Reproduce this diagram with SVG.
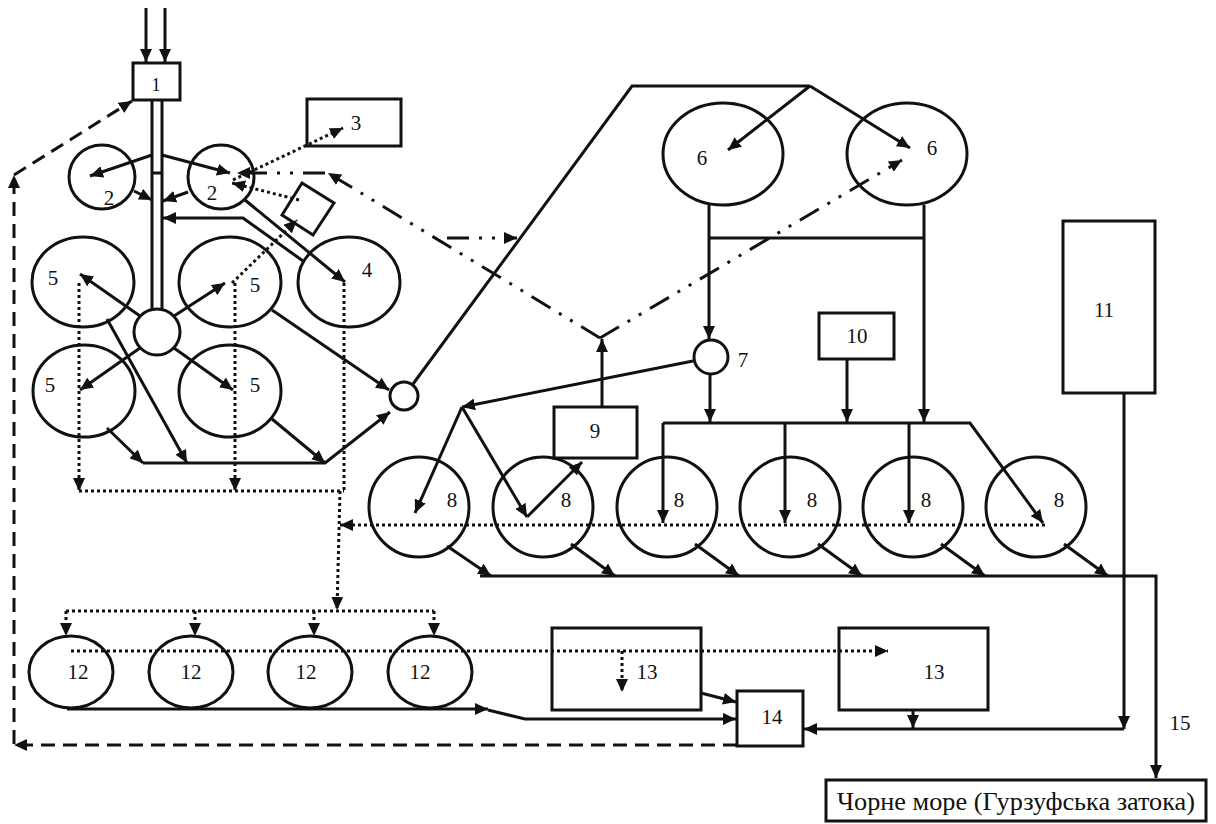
<svg xmlns="http://www.w3.org/2000/svg" width="1216" height="824" viewBox="0 0 1216 824">
<style>
.s{fill:none;stroke:#111;stroke-width:3}
.ln{fill:none;stroke:#111;stroke-width:3}
.dot{fill:none;stroke:#111;stroke-width:3;stroke-dasharray:3,3}
.dash{fill:none;stroke:#111;stroke-width:3;stroke-dasharray:14,8}
.dd{fill:none;stroke:#111;stroke-width:3;stroke-dasharray:22,10,3,10,3,10}
text{font-family:"Liberation Serif","Times New Roman",serif;font-size:21px;fill:#111;text-anchor:middle}
</style>
<defs>
<marker id="a" markerUnits="userSpaceOnUse" markerWidth="14" markerHeight="12" refX="13" refY="6" orient="auto">
<path d="M0,0 L13,6 L0,12 z" fill="#111"/>
</marker>
</defs>
<g id="connectors">
<path class="ln" d="M146,8 V62" marker-end="url(#a)"/>
<path class="ln" d="M165,8 V62" marker-end="url(#a)"/>
<path class="ln" d="M152,100 V310 M162,100 V310 M152,173 H162"/>
<path class="ln" d="M152,155 L90,176" marker-end="url(#a)"/>
<path class="ln" d="M162,155 L230,173" marker-end="url(#a)"/>
<path class="ln" d="M134,191 L152,200" marker-end="url(#a)"/>
<path class="ln" d="M188,192 L163,201" marker-end="url(#a)"/>
<path class="ln" d="M303,261 L243,218 L163,218" marker-end="url(#a)"/>
<path class="ln" d="M245,200 L345,282" marker-end="url(#a)"/>
<path class="ln" d="M140,316 L80,274" marker-end="url(#a)"/>
<path class="ln" d="M174,316 L225,283" marker-end="url(#a)"/>
<path class="ln" d="M140,348 L80,390" marker-end="url(#a)"/>
<path class="ln" d="M174,348 L233,390" marker-end="url(#a)"/>
<path class="ln" d="M107,319 L187,463" marker-end="url(#a)"/>
<path class="ln" d="M107,428 L143,463" marker-end="url(#a)"/>
<path class="ln" d="M272,419 L325,463" marker-end="url(#a)"/>
<path class="ln" d="M143,463 H325 L390,412" marker-end="url(#a)"/>
<path class="ln" d="M272,310 L389,390" marker-end="url(#a)"/>
<path class="ln" d="M413,384 L632,86 H810"/>
<path class="ln" d="M810,86 L728,150" marker-end="url(#a)"/>
<path class="ln" d="M810,86 L910,148" marker-end="url(#a)"/>
<path class="ln" d="M709,205 V339" marker-end="url(#a)"/>
<path class="ln" d="M709,238 H924"/>
<path class="ln" d="M924,205 V422" marker-end="url(#a)"/>
<path class="ln" d="M693,361 L462,407" marker-end="url(#a)"/>
<path class="ln" d="M462,407 L415,513" marker-end="url(#a)"/>
<path class="ln" d="M462,407 L527,517" marker-end="url(#a)"/>
<path class="ln" d="M527,517 L582,462" marker-end="url(#a)"/>
<path class="ln" d="M602,407 V339" marker-end="url(#a)"/>
<path class="ln" d="M710,374 V422" marker-end="url(#a)"/>
<path class="ln" d="M847,359 V422" marker-end="url(#a)"/>
<path class="ln" d="M663,423 H970 L1043,523" marker-end="url(#a)"/>
<path class="ln" d="M663,423 V523" marker-end="url(#a)"/>
<path class="ln" d="M785,423 V523" marker-end="url(#a)"/>
<path class="ln" d="M909,423 V523" marker-end="url(#a)"/>
<path class="ln" d="M447,546 L491,576" marker-end="url(#a)"/>
<path class="ln" d="M571,544 L615,576" marker-end="url(#a)"/>
<path class="ln" d="M695,544 L739,576" marker-end="url(#a)"/>
<path class="ln" d="M818,544 L862,576" marker-end="url(#a)"/>
<path class="ln" d="M941,544 L985,576" marker-end="url(#a)"/>
<path class="ln" d="M1064,544 L1108,576" marker-end="url(#a)"/>
<path class="ln" d="M480,576 H1156 V778" marker-end="url(#a)"/>
<path class="ln" d="M1124,393 V729" marker-end="url(#a)"/>
<path class="ln" d="M1124,729 H804" marker-end="url(#a)"/>
<path class="ln" d="M913,710 V728" marker-end="url(#a)"/>
<path class="ln" d="M67,709 H488" marker-end="url(#a)"/>
<path class="ln" d="M488,710 L525,719 H736" marker-end="url(#a)"/>
<path class="ln" d="M701,693 L736,702" marker-end="url(#a)"/>
<path class="dash" d="M737,745 H14" marker-end="url(#a)"/>
<path class="dash" d="M14,744 V175" marker-end="url(#a)"/>
<path class="dash" d="M14,175 L132,101" marker-end="url(#a)"/>
<path class="dot" d="M233,180 L343,128" marker-end="url(#a)"/>
<path class="dot" d="M299,200 L232,183" marker-end="url(#a)"/>
<path class="dot" d="M232,283 L297,220" marker-end="url(#a)"/>
<path class="dot" d="M79,283 V491" marker-end="url(#a)"/>
<path class="dot" d="M235,283 V491" marker-end="url(#a)"/>
<path class="dot" d="M79,491 H344 M344,283 V491"/>
<path class="dot" d="M340,491 L337,610" marker-end="url(#a)"/>
<path class="dot" d="M66,611 H434"/>
<path class="dot" d="M66,611 V636" marker-end="url(#a)"/>
<path class="dot" d="M195,611 V636" marker-end="url(#a)"/>
<path class="dot" d="M314,611 V636" marker-end="url(#a)"/>
<path class="dot" d="M434,611 V636" marker-end="url(#a)"/>
<path class="dot" d="M1045,525 H340" marker-end="url(#a)"/>
<path class="dot" d="M71,651 H888" marker-end="url(#a)"/>
<path class="dot" d="M622,651 V692" marker-end="url(#a)"/>
<path class="dd" d="M600,338 L328,173" marker-end="url(#a)"/>
<path class="dd" d="M325,173 H237" marker-end="url(#a)"/>
<path class="dd" d="M447,238 H517" marker-end="url(#a)"/>
<path class="dd" d="M600,338 L902,160" marker-end="url(#a)"/>
</g>
<g id="n1"><rect class="s" x="133" y="63" width="47" height="37"/><text x="156" y="91" style="font-size:18px">1</text></g>
<g id="n2a"><ellipse class="s" cx="102" cy="177" rx="33" ry="32"/><text x="109" y="205">2</text></g>
<g id="n2b"><ellipse class="s" cx="221" cy="177" rx="33" ry="32"/><text x="212" y="200">2</text></g>
<g id="n3"><rect class="s" x="307" y="99" width="94" height="47"/><text x="356" y="130">3</text></g>
<g id="nsq"><polygon class="s" points="302,183 334,203 313,235 282,215"/></g>
<g id="n4"><ellipse class="s" cx="349" cy="282" rx="51" ry="45"/><text x="367" y="277">4</text></g>
<g id="n5a"><ellipse class="s" cx="83" cy="282" rx="51" ry="45"/><text x="53" y="285">5</text></g>
<g id="n5b"><ellipse class="s" cx="230" cy="282" rx="51" ry="45"/><text x="255" y="292">5</text></g>
<g id="n5c"><ellipse class="s" cx="84" cy="391" rx="51" ry="46"/><text x="50" y="392">5</text></g>
<g id="n5d"><ellipse class="s" cx="230" cy="391" rx="51" ry="46"/><text x="255" y="392">5</text></g>
<g id="ndist"><circle class="s" cx="157" cy="332" r="23"/></g>
<g id="nsmall"><circle class="s" cx="404" cy="396" r="14"/></g>
<g id="n6a"><ellipse class="s" cx="723" cy="154" rx="60" ry="51"/><text x="702" y="165">6</text></g>
<g id="n6b"><ellipse class="s" cx="907" cy="154" rx="60" ry="51"/><text x="932" y="155">6</text></g>
<g id="n7"><circle class="s" cx="711" cy="357" r="17"/><text x="743" y="367">7</text></g>
<g id="n8a"><circle class="s" cx="419" cy="507" r="50"/><text x="452" y="507">8</text></g>
<g id="n8b"><circle class="s" cx="543" cy="507" r="50"/><text x="566" y="507">8</text></g>
<g id="n8c"><circle class="s" cx="667" cy="507" r="50"/><text x="679" y="507">8</text></g>
<g id="n8d"><circle class="s" cx="790" cy="507" r="50"/><text x="812" y="507">8</text></g>
<g id="n8e"><circle class="s" cx="913" cy="507" r="50"/><text x="926" y="507">8</text></g>
<g id="n8f"><circle class="s" cx="1036" cy="507" r="50"/><text x="1059" y="507">8</text></g>
<g id="n9"><rect class="s" x="554" y="407" width="83" height="51"/><text x="595" y="438">9</text></g>
<g id="n10"><rect class="s" x="819" y="313" width="75" height="46"/><text x="857" y="343">10</text></g>
<g id="n11"><rect class="s" x="1063" y="221" width="92" height="172"/><text x="1104" y="317">11</text></g>
<g id="n12a"><ellipse class="s" cx="71" cy="672" rx="42" ry="36"/><text x="78" y="679">12</text></g>
<g id="n12b"><ellipse class="s" cx="191" cy="672" rx="42" ry="36"/><text x="191" y="679">12</text></g>
<g id="n12c"><ellipse class="s" cx="310" cy="672" rx="42" ry="36"/><text x="306" y="679">12</text></g>
<g id="n12d"><ellipse class="s" cx="430" cy="672" rx="42" ry="36"/><text x="420" y="679">12</text></g>
<g id="n13a"><rect class="s" x="552" y="628" width="149" height="82"/><text x="647" y="679">13</text></g>
<g id="n13b"><rect class="s" x="839" y="628" width="149" height="82"/><text x="934" y="679">13</text></g>
<g id="n14"><rect class="s" x="737" y="691" width="66" height="55"/><text x="772" y="724">14</text></g>
<g id="n15"><text x="1180" y="730">15</text></g>
<g id="nsea"><rect class="s" x="826" y="780" width="380" height="41"/><text x="1016" y="810" style="font-size:25px" textLength="358" lengthAdjust="spacingAndGlyphs">Чорне море (Гурзуфська затока)</text></g>
</svg>
